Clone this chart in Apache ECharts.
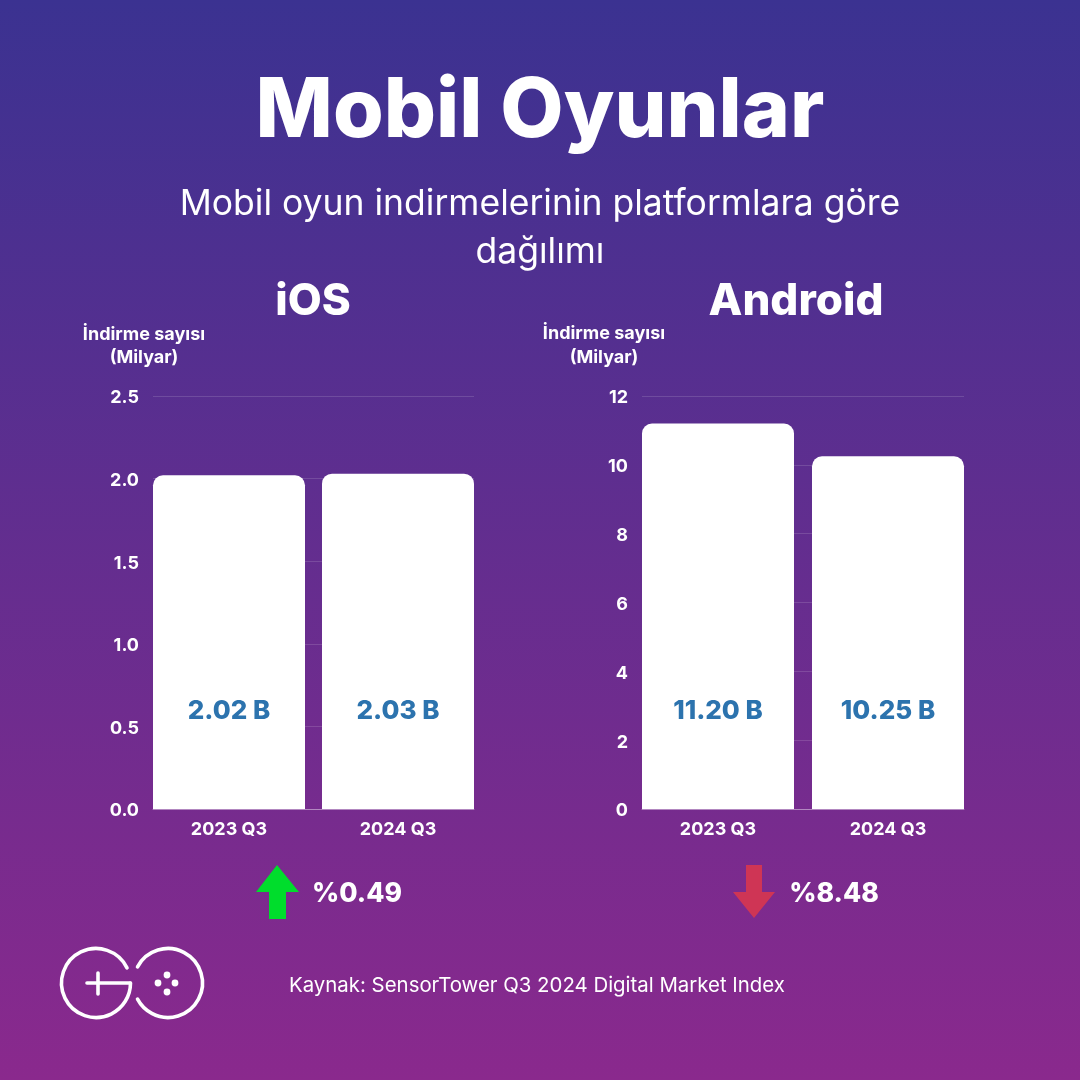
<!DOCTYPE html>
<html>
<head>
<meta charset="utf-8">
<style>
html,body{margin:0;padding:0;background:#5a2d90;}
#main{width:1080px;height:1080px;}
</style>
<script src="https://cdn.jsdelivr.net/npm/echarts@6/dist/echarts.min.js"></script>
</head>
<body>
<div id="main"></div>
<script>
var categories = ["2023 Q3", "2024 Q3"];
var iosValues = [2.02, 2.03];
var androidValues = [11.20, 10.25];
var iosChange = "%0.49";
var androidChange = "%8.48";

var font = "Inter";
var chart = echarts.init(document.getElementById("main"));

// baslik ve diger yazilar
function text(str, x, y, size, weight, align) {
    return {
        text: str, left: x, top: y, padding: 0, textAlign: align || "center", textVerticalAlign: "middle",
        textStyle: {color: "#fff", fontFamily: font, fontSize: size, fontWeight: weight, lineHeight: size * 1.25}
    };
}

// cizgiler dar gridde, barlar genis gridde: barlar cizgilerin ucuna kadar gidiyor
function lineX(i) {
    return {
        type: "category", gridIndex: i, data: categories,
        axisTick: {show: false}, axisLabel: {show: false},
        axisLine: {lineStyle: {color: "rgba(255,255,255,0.35)", width: 1}}
    };
}

function lineY(i, max, step, digits) {
    return {
        type: "value", gridIndex: i, min: 0, max: max, interval: step,
        axisLine: {show: false}, axisTick: {show: false},
        splitLine: {lineStyle: {color: "rgba(255,255,255,0.14)", width: 1}},
        axisLabel: {
            margin: 14,
            rich: {t: {color: "#fff", fontFamily: font, fontSize: 18, fontWeight: 700, padding: [4, 0, 0, 0]}},
            formatter: function (v) { return "{t|" + v.toFixed(digits) + "}"; }
        }
    };
}

function barX(i) {
    return {
        type: "category", gridIndex: i, data: categories,
        axisTick: {show: false}, axisLine: {show: false},
        axisLabel: {color: "#fff", fontFamily: font, fontSize: 18, fontWeight: 700, margin: 12}
    };
}

function barY(i, max, step) {
    return {type: "value", gridIndex: i, min: 0, max: max, interval: step, show: false, splitLine: {show: false}};
}

function barSeries(i, values) {
    return {
        type: "bar", xAxisIndex: i, yAxisIndex: i, data: values,
        barWidth: 152,
        itemStyle: {color: "#fff", borderRadius: [10, 10, 0, 0]},
        label: {
            show: true, position: "insideBottom", distance: 85,
            color: "#2c73ae", fontFamily: font, fontSize: 26, fontWeight: 800,
            formatter: function (p) { return p.value.toFixed(2) + " B"; }
        }
    };
}

// logo
var white = {fill: "none", stroke: "#fff", lineWidth: 3.6, lineCap: "round"};
function deg(d) { return d * Math.PI / 180; }
var logo = {
    type: "group", silent: true,
    children: [
        {type: "arc", shape: {cx: 96, cy: 983, r: 34.5, startAngle: deg(-26), endAngle: 0, clockwise: false}, style: white},
        {type: "line", shape: {x1: 87, y1: 983, x2: 130, y2: 983}, style: white},
        {type: "line", shape: {x1: 98, y1: 973, x2: 98, y2: 994}, style: white},
        {type: "arc", shape: {cx: 168, cy: 983, r: 34.5, startAngle: deg(-152), endAngle: deg(152), clockwise: true}, style: white},
        {type: "circle", shape: {cx: 167, cy: 975, r: 3.4}, style: {fill: "#fff"}},
        {type: "circle", shape: {cx: 167, cy: 992, r: 3.4}, style: {fill: "#fff"}},
        {type: "circle", shape: {cx: 158, cy: 983, r: 3.4}, style: {fill: "#fff"}},
        {type: "circle", shape: {cx: 175, cy: 983, r: 3.4}, style: {fill: "#fff"}}
    ]
};

var upArrow = {
    type: "polygon", silent: true,
    shape: {points: [[277, 865], [299, 892], [286, 892], [286, 919], [269, 919], [269, 892], [256, 892]]},
    style: {fill: "#00dd2c"}
};
var downArrow = {
    type: "polygon", silent: true,
    shape: {points: [[746, 865], [762, 865], [762, 892], [775, 892], [754, 918], [733, 892], [746, 892]]},
    style: {fill: "#cf3555"}
};

chart.setOption({
    animation: false,
    backgroundColor: new echarts.graphic.LinearGradient(0, 0, 0, 1, [
        {offset: 0, color: "#3b3291"},
        {offset: 1, color: "#8a298d"}
    ]),
    title: [
        text("Mobil Oyunlar", 540, 112, 82, 800),
        text("Mobil oyun indirmelerinin platformlara göre", 540, 204, 35.5, 400),
        text("dağılımı", 540, 252, 35.5, 400),
        text("iOS", 313, 302, 44, 800),
        text("Android", 796, 302, 44, 800),
        text("İndirme sayısı", 144, 335, 18, 700),
        text("(Milyar)", 144, 358, 18, 700),
        text("İndirme sayısı", 604, 334, 18, 700),
        text("(Milyar)", 604, 358, 18, 700),
        text(iosChange, 357, 894, 26.5, 800),
        text(androidChange, 834, 894, 26.5, 800),
        text("Kaynak: SensorTower Q3 2024 Digital Market Index", 289, 986, 20.4, 400, "left")
    ],
    grid: [
        {left: 144.5, top: 396, width: 338, height: 413},
        {left: 633, top: 396, width: 340, height: 413},
        {left: 153, top: 396, width: 321, height: 413},
        {left: 642, top: 396, width: 322, height: 413}
    ],
    xAxis: [barX(0), barX(1), lineX(2), lineX(3)],
    yAxis: [barY(0, 2.5, 0.5), barY(1, 12, 2), lineY(2, 2.5, 0.5, 1), lineY(3, 12, 2, 0)],
    series: [barSeries(0, iosValues), barSeries(1, androidValues)],
    graphic: [logo, upArrow, downArrow]
});
</script>
</body>
</html>
